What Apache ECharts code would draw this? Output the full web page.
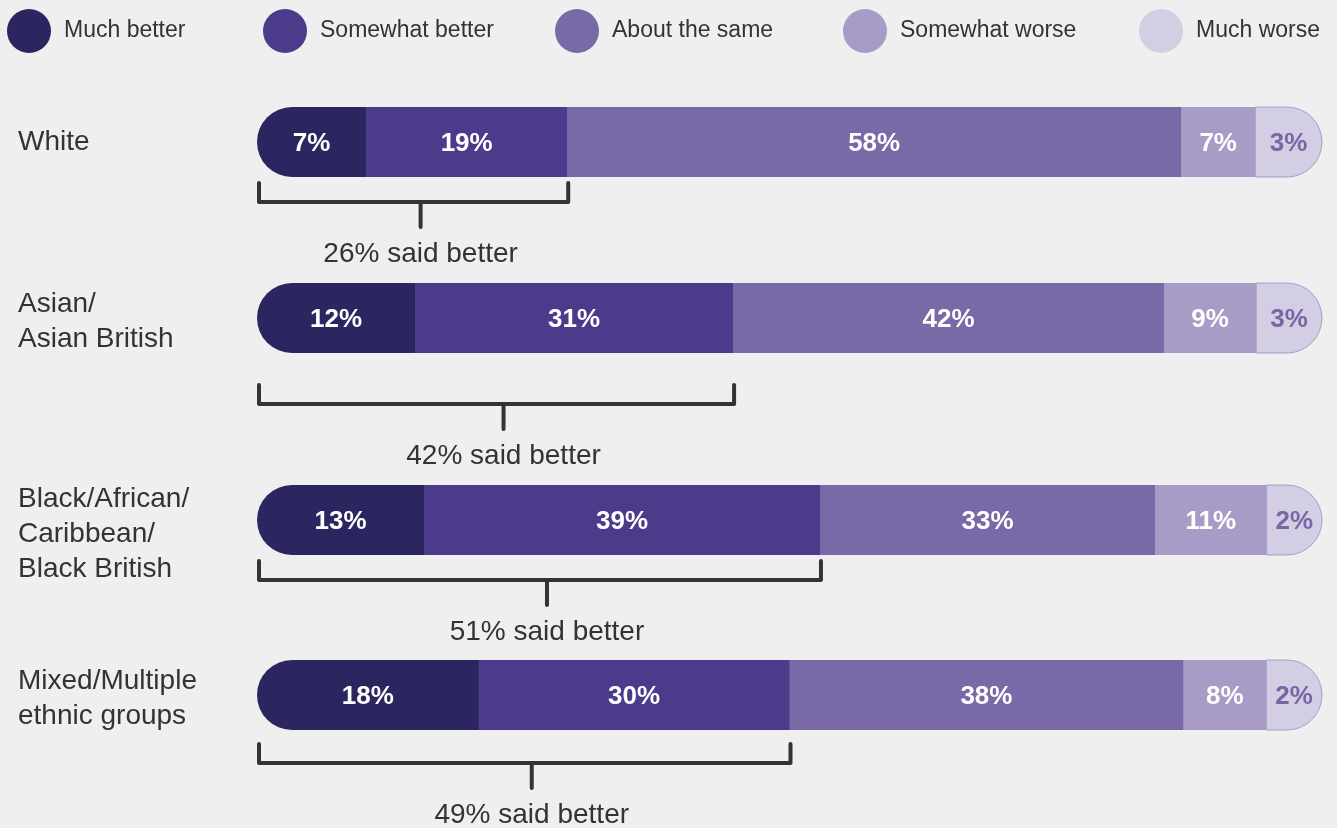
<!DOCTYPE html>
<html>
<head>
<meta charset="utf-8">
<script src="https://cdn.jsdelivr.net/npm/echarts@6/dist/echarts.min.js"></script>
<style>
  html, body { margin: 0; padding: 0; background: #efefef; }
  #chart { width: 1337px; height: 828px; }
</style>
</head>
<body>
<div id="chart"></div>
<script>
// ---------- data ----------
const categories = ['White', 'Asian/\nAsian British', 'Black/African/\nCaribbean/\nBlack British', 'Mixed/Multiple\nethnic groups'];
const seriesNames = ['Much better', 'Somewhat better', 'About the same', 'Somewhat worse', 'Much worse'];
const muchBetter     = [7, 12, 13, 18];
const somewhatBetter = [19, 31, 39, 30];
const aboutTheSame   = [58, 42, 33, 38];
const somewhatWorse  = [7, 9, 11, 8];
const muchWorse      = [3, 3, 2, 2];
const saidBetter     = [26, 42, 51, 49];

// ---------- layout / style ----------
const FONT = "'Liberation Sans', Arial, Helvetica, sans-serif";
const colors = ['#2b2560', '#4c3a8a', '#7969a6', '#a89bc6', '#d3cee4'];
const rowTops = [107, 283, 485, 660];
const barHeight = 70;
const bracketGap = [25, 51, 25, 33];
const labelSpacer = [0, 8, 28, 8];
const legendLefts = [7, 263, 555, 843, 1139];

const valuesBySeries = [muchBetter, somewhatBetter, aboutTheSame, somewhatWorse, muchWorse];

const grids = [], xAxes = [], yAxes = [], series = [];

categories.forEach((cat, g) => {
  const rowVals = valuesBySeries.map(arr => arr[g]);
  const total = rowVals.reduce((a, b) => a + b, 0);
  grids.push({ left: 292, right: 50, top: rowTops[g], height: barHeight, outerBoundsMode: 'none' });
  xAxes.push({ type: 'value', gridIndex: g, min: 0, max: total, show: false });
  const sp = labelSpacer[g];
  yAxes.push({
    type: 'category', gridIndex: g, data: [cat],
    axisLine: { show: false }, axisTick: { show: false }, splitLine: { show: false },
    axisLabel: {
      margin: 274, align: 'left', color: '#333', fontSize: 28, lineHeight: 35,
      fontFamily: FONT,
      formatter: function (v) {
        const lines = v.split('\n').map(l => '{t|' + l + '}');
        return (sp ? '{sp| }\n' : '') + lines.join('\n');
      },
      rich: {
        t: { color: '#333', fontSize: 28, lineHeight: 35, fontFamily: FONT, align: 'left' },
        sp: { fontSize: 1, lineHeight: sp || 1, height: sp || 1 }
      }
    }
  });

  let cum = 0;
  rowVals.forEach((v, s) => {
    const start = cum; cum += v;
    const n = rowVals.length;
    series.push({
      type: 'custom', name: seriesNames[s], xAxisIndex: g, yAxisIndex: g,
      itemStyle: { color: colors[s] },
      encode: { x: [0, 1], y: 2 },
      data: [[start, cum, 0, v]],
      renderItem: function (params, api) {
        const a = api.coord([api.value(0), api.value(2)]);
        const b = api.coord([api.value(1), api.value(2)]);
        const h = api.size([0, 1])[1];
        const r = h / 2;
        let x = a[0], w = b[0] - a[0], radius = 0;
        if (s === 0) { x -= r; w += r; radius = [r, 0, 0, r]; }
        if (s === n - 1) { w += r; radius = [0, r, r, 0]; }
        const last = s === n - 1;
        return {
          type: 'group',
          children: [
            {
              type: 'rect',
              shape: { x: x, y: a[1] - h / 2, width: w + (last ? 0 : 0.6), height: h, r: radius },
              style: { fill: api.visual('color'), stroke: last ? '#a99dc7' : null, lineWidth: last ? 1 : 0 }
            },
            {
              type: 'text',
              z2: 10,
              style: {
                x: x + w / 2, y: a[1] + 2,
                text: api.value(3) + '%',
                textAlign: 'center', textVerticalAlign: 'middle',
                fill: last ? '#7767a5' : '#ffffff',
                fontSize: 26, fontWeight: 'bold', fontFamily: FONT
              }
            }
          ]
        };
      }
    });
  });

  // bracket summarising "better"
  series.push({
    type: 'custom', name: 'bracket', xAxisIndex: g, yAxisIndex: g,
    encode: { x: [0, 1], y: 2 },
    data: [[0, muchBetter[g] + somewhatBetter[g], 0, saidBetter[g]]],
    renderItem: function (params, api) {
      const a = api.coord([api.value(0), api.value(2)]);
      const b = api.coord([api.value(1), api.value(2)]);
      const h = api.size([0, 1])[1];
      const r = h / 2;
      const x0 = a[0] - r + 2, x1 = b[0] + 1;
      const yL = a[1] + h / 2 + bracketGap[g];
      const xm = (x0 + x1) / 2 + 7;
      const ls = { stroke: '#333333', lineWidth: 4, lineCap: 'round', lineJoin: 'round', fill: null };
      return {
        type: 'group',
        children: [
          { type: 'polyline', shape: { points: [[x0, yL - 19], [x0, yL], [x1, yL], [x1, yL - 19]] }, style: ls },
          { type: 'line', shape: { x1: xm, y1: yL, x2: xm, y2: yL + 25 }, style: ls },
          {
            type: 'text',
            style: {
              x: xm, y: yL + 52, text: api.value(3) + '% said better',
              textAlign: 'center', textVerticalAlign: 'middle',
              fill: '#333333', fontSize: 28, fontFamily: FONT
            }
          }
        ]
      };
    }
  });
});

const legends = seriesNames.map((name, i) => ({
  data: [name], left: legendLefts[i], top: 9, padding: 0, icon: 'circle',
  itemWidth: 48, itemHeight: 44, selectedMode: false,
  textStyle: { color: '#333', fontSize: 23, fontFamily: FONT, padding: [0, 0, 0, 6] }
}));

const chart = echarts.init(document.getElementById('chart'));
chart.setOption({
  backgroundColor: '#efefef',
  animation: false,
  legend: legends,
  grid: grids,
  xAxis: xAxes,
  yAxis: yAxes,
  series: series
});
</script>
</body>
</html>
